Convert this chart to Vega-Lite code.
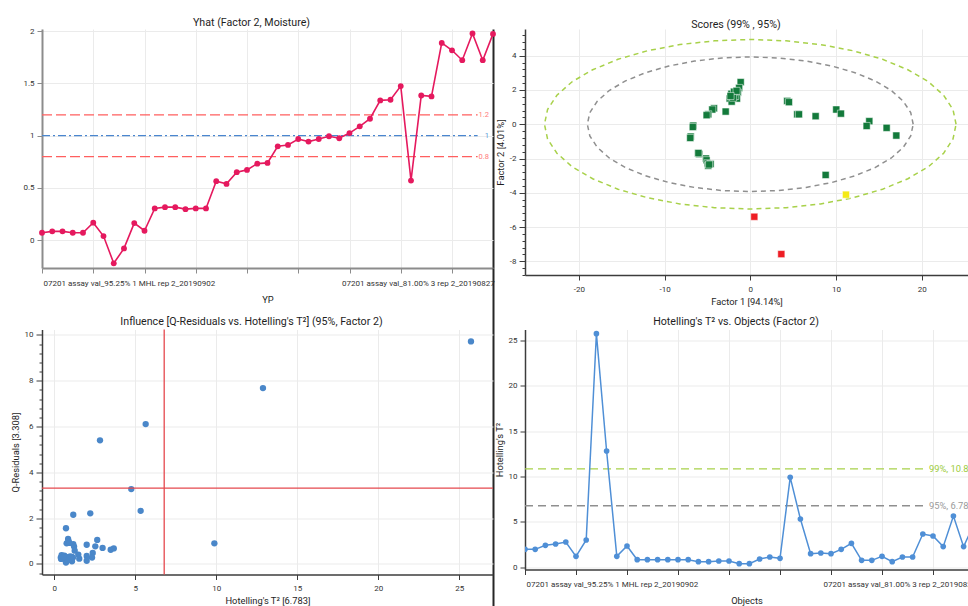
{
  "$schema": "https://vega.github.io/schema/vega-lite/v6.json",
  "autosize": {"type": "pad"},
  "padding": {"left": 11, "top": 17, "right": 0, "bottom": 0},
  "background": "#ffffff",
  "columns": 2,
  "spacing": {"row": 54.5, "column": 32},
  "bounds": "flush",
  "resolve": {"scale": {"stroke": "independent", "color": "independent", "fill": "independent", "strokeDash": "independent"}},
  "datasets": {
    "objs": [
      {"obj": 0, "yhat": 0.07, "t2": 1.98}, {"obj": 1, "yhat": 0.083, "t2": 1.98}, {"obj": 2, "yhat": 0.083, "t2": 2.42},
      {"obj": 3, "yhat": 0.07, "t2": 2.57}, {"obj": 4, "yhat": 0.07, "t2": 2.79}, {"obj": 5, "yhat": 0.166, "t2": 1.21},
      {"obj": 6, "yhat": 0.038, "t2": 3.01}, {"obj": 7, "yhat": -0.223, "t2": 25.73}, {"obj": 8, "yhat": -0.08, "t2": 12.81},
      {"obj": 9, "yhat": 0.162, "t2": 1.21}, {"obj": 10, "yhat": 0.089, "t2": 2.35}, {"obj": 11, "yhat": 0.303, "t2": 0.84},
      {"obj": 12, "yhat": 0.315, "t2": 0.84}, {"obj": 13, "yhat": 0.315, "t2": 0.84}, {"obj": 14, "yhat": 0.296, "t2": 0.84},
      {"obj": 15, "yhat": 0.303, "t2": 0.84}, {"obj": 16, "yhat": 0.303, "t2": 0.84}, {"obj": 17, "yhat": 0.564, "t2": 0.62},
      {"obj": 18, "yhat": 0.538, "t2": 0.62}, {"obj": 19, "yhat": 0.65, "t2": 0.7}, {"obj": 20, "yhat": 0.672, "t2": 0.7},
      {"obj": 21, "yhat": 0.732, "t2": 0.4}, {"obj": 22, "yhat": 0.739, "t2": 0.4}, {"obj": 23, "yhat": 0.898, "t2": 0.92},
      {"obj": 24, "yhat": 0.911, "t2": 1.14}, {"obj": 25, "yhat": 0.968, "t2": 0.99}, {"obj": 26, "yhat": 0.943, "t2": 9.91},
      {"obj": 27, "yhat": 0.968, "t2": 5.32}, {"obj": 28, "yhat": 0.994, "t2": 1.5}, {"obj": 29, "yhat": 0.975, "t2": 1.58},
      {"obj": 30, "yhat": 1.025, "t2": 1.5}, {"obj": 31, "yhat": 1.089, "t2": 1.98}, {"obj": 32, "yhat": 1.162, "t2": 2.64},
      {"obj": 33, "yhat": 1.338, "t2": 0.77}, {"obj": 34, "yhat": 1.344, "t2": 0.77}, {"obj": 35, "yhat": 1.475, "t2": 1.21},
      {"obj": 36, "yhat": 0.57, "t2": 0.62}, {"obj": 37, "yhat": 1.385, "t2": 1.14}, {"obj": 38, "yhat": 1.376, "t2": 1.14},
      {"obj": 39, "yhat": 1.889, "t2": 3.67}, {"obj": 40, "yhat": 1.818, "t2": 3.45}, {"obj": 41, "yhat": 1.723, "t2": 2.28},
      {"obj": 42, "yhat": 1.98, "t2": 5.65}, {"obj": 43, "yhat": 1.723, "t2": 2.28}, {"obj": 44, "yhat": 1.975, "t2": 4.75}
    ],
    "p1ref": [
      {"v": 1.2, "lab": "1.2", "c": "lim"},
      {"v": 1.0, "lab": "1", "c": "tgt"},
      {"v": 0.8, "lab": "0.8", "c": "lim"}
    ],
    "p4ref": [
      {"v": 10.85, "lab": "99%, 10.85", "c": "99"},
      {"v": 6.783, "lab": "95%, 6.783", "c": "95"}
    ],
    "inflim": [{"t2": 6.783, "q": 3.308}],
    "ell": [
      {"ell": "99", "k": 0, "x": 24, "y": 0}, {"ell": "99", "k": 1, "x": 23.64, "y": 0.86}, {"ell": "99", "k": 2, "x": 22.55, "y": 1.69},
      {"ell": "99", "k": 3, "x": 20.78, "y": 2.48}, {"ell": "99", "k": 4, "x": 18.38, "y": 3.18}, {"ell": "99", "k": 5, "x": 15.43, "y": 3.79},
      {"ell": "99", "k": 6, "x": 12, "y": 4.29}, {"ell": "99", "k": 7, "x": 8.21, "y": 4.65}, {"ell": "99", "k": 8, "x": 4.17, "y": 4.87},
      {"ell": "99", "k": 9, "x": 0, "y": 4.95}, {"ell": "99", "k": 10, "x": -4.17, "y": 4.87}, {"ell": "99", "k": 11, "x": -8.21, "y": 4.65},
      {"ell": "99", "k": 12, "x": -12, "y": 4.29}, {"ell": "99", "k": 13, "x": -15.43, "y": 3.79}, {"ell": "99", "k": 14, "x": -18.38, "y": 3.18},
      {"ell": "99", "k": 15, "x": -20.78, "y": 2.48}, {"ell": "99", "k": 16, "x": -22.55, "y": 1.69}, {"ell": "99", "k": 17, "x": -23.64, "y": 0.86},
      {"ell": "99", "k": 18, "x": -24, "y": 0}, {"ell": "99", "k": 19, "x": -23.64, "y": -0.86}, {"ell": "99", "k": 20, "x": -22.55, "y": -1.69},
      {"ell": "99", "k": 21, "x": -20.78, "y": -2.48}, {"ell": "99", "k": 22, "x": -18.38, "y": -3.18}, {"ell": "99", "k": 23, "x": -15.43, "y": -3.79},
      {"ell": "99", "k": 24, "x": -12, "y": -4.29}, {"ell": "99", "k": 25, "x": -8.21, "y": -4.65}, {"ell": "99", "k": 26, "x": -4.17, "y": -4.87},
      {"ell": "99", "k": 27, "x": 0, "y": -4.95}, {"ell": "99", "k": 28, "x": 4.17, "y": -4.87}, {"ell": "99", "k": 29, "x": 8.21, "y": -4.65},
      {"ell": "99", "k": 30, "x": 12, "y": -4.29}, {"ell": "99", "k": 31, "x": 15.43, "y": -3.79}, {"ell": "99", "k": 32, "x": 18.38, "y": -3.18},
      {"ell": "99", "k": 33, "x": 20.78, "y": -2.48}, {"ell": "99", "k": 34, "x": 22.55, "y": -1.69}, {"ell": "99", "k": 35, "x": 23.64, "y": -0.86},
      {"ell": "95", "k": 0, "x": 19, "y": 0}, {"ell": "95", "k": 1, "x": 18.71, "y": 0.68}, {"ell": "95", "k": 2, "x": 17.85, "y": 1.34},
      {"ell": "95", "k": 3, "x": 16.45, "y": 1.97}, {"ell": "95", "k": 4, "x": 14.55, "y": 2.53}, {"ell": "95", "k": 5, "x": 12.21, "y": 3.01},
      {"ell": "95", "k": 6, "x": 9.5, "y": 3.4}, {"ell": "95", "k": 7, "x": 6.5, "y": 3.69}, {"ell": "95", "k": 8, "x": 3.3, "y": 3.87},
      {"ell": "95", "k": 9, "x": 0, "y": 3.93}, {"ell": "95", "k": 10, "x": -3.3, "y": 3.87}, {"ell": "95", "k": 11, "x": -6.5, "y": 3.69},
      {"ell": "95", "k": 12, "x": -9.5, "y": 3.4}, {"ell": "95", "k": 13, "x": -12.21, "y": 3.01}, {"ell": "95", "k": 14, "x": -14.55, "y": 2.53},
      {"ell": "95", "k": 15, "x": -16.45, "y": 1.97}, {"ell": "95", "k": 16, "x": -17.85, "y": 1.34}, {"ell": "95", "k": 17, "x": -18.71, "y": 0.68},
      {"ell": "95", "k": 18, "x": -19, "y": 0}, {"ell": "95", "k": 19, "x": -18.71, "y": -0.68}, {"ell": "95", "k": 20, "x": -17.85, "y": -1.34},
      {"ell": "95", "k": 21, "x": -16.45, "y": -1.97}, {"ell": "95", "k": 22, "x": -14.55, "y": -2.53}, {"ell": "95", "k": 23, "x": -12.21, "y": -3.01},
      {"ell": "95", "k": 24, "x": -9.5, "y": -3.4}, {"ell": "95", "k": 25, "x": -6.5, "y": -3.69}, {"ell": "95", "k": 26, "x": -3.3, "y": -3.87},
      {"ell": "95", "k": 27, "x": 0, "y": -3.93}, {"ell": "95", "k": 28, "x": 3.3, "y": -3.87}, {"ell": "95", "k": 29, "x": 6.5, "y": -3.69},
      {"ell": "95", "k": 30, "x": 9.5, "y": -3.4}, {"ell": "95", "k": 31, "x": 12.21, "y": -3.01}, {"ell": "95", "k": 32, "x": 14.55, "y": -2.53},
      {"ell": "95", "k": 33, "x": 16.45, "y": -1.97}, {"ell": "95", "k": 34, "x": 17.85, "y": -1.34}, {"ell": "95", "k": 35, "x": 18.71, "y": -0.68}
    ],
    "scores": [
      {"f1": -1.12, "f2": 2.46, "grp": "ok"}, {"f1": -1.3, "f2": 2.12, "grp": "ok"}, {"f1": -1.45, "f2": 1.85, "grp": "ok"},
      {"f1": -1.55, "f2": 1.5, "grp": "ok"}, {"f1": -1.75, "f2": 1.65, "grp": "ok"}, {"f1": -2.2, "f2": 1.78, "grp": "ok"},
      {"f1": -2.4, "f2": 1.5, "grp": "ok"}, {"f1": -2.17, "f2": 1.32, "grp": "ok"}, {"f1": -1.9, "f2": 1.9, "grp": "ok"},
      {"f1": -2.0, "f2": 1.55, "grp": "ok"}, {"f1": -1.6, "f2": 1.95, "grp": "ok"}, {"f1": -2.3, "f2": 1.65, "grp": "ok"},
      {"f1": -4.23, "f2": 0.93, "grp": "ok"}, {"f1": -4.43, "f2": 0.86, "grp": "ok"}, {"f1": -4.9, "f2": 0.58, "grp": "ok"},
      {"f1": -5.09, "f2": 0.53, "grp": "ok"}, {"f1": -2.87, "f2": 0.74, "grp": "ok"},
      {"f1": -6.65, "f2": -0.08, "grp": "ok"}, {"f1": -6.7, "f2": -0.16, "grp": "ok"}, {"f1": -6.95, "f2": -0.72, "grp": "ok"},
      {"f1": -7.0, "f2": -0.8, "grp": "ok"},
      {"f1": -6.06, "f2": -1.7, "grp": "ok"}, {"f1": -5.95, "f2": -1.74, "grp": "ok"}, {"f1": -5.17, "f2": -2.0, "grp": "ok"},
      {"f1": -5.1, "f2": -2.1, "grp": "ok"}, {"f1": -4.98, "f2": -2.28, "grp": "ok"}, {"f1": -4.63, "f2": -2.32, "grp": "ok"},
      {"f1": -4.9, "f2": -2.42, "grp": "ok"}, {"f1": -4.8, "f2": -2.35, "grp": "ok"}, {"f1": -6.05, "f2": -1.68, "grp": "ok"},
      {"f1": 4.31, "f2": 1.36, "grp": "ok"}, {"f1": 4.51, "f2": 1.29, "grp": "ok"}, {"f1": 5.48, "f2": 0.58, "grp": "ok"},
      {"f1": 5.68, "f2": 0.58, "grp": "ok"}, {"f1": 7.62, "f2": 0.47, "grp": "ok"}, {"f1": 10.03, "f2": 0.86, "grp": "ok"},
      {"f1": 10.57, "f2": 0.62, "grp": "ok"}, {"f1": 13.88, "f2": 0.18, "grp": "ok"}, {"f1": 13.57, "f2": -0.1, "grp": "ok"},
      {"f1": 15.9, "f2": -0.21, "grp": "ok"}, {"f1": 17.03, "f2": -0.66, "grp": "ok"}, {"f1": 8.79, "f2": -2.96, "grp": "ok"},
      {"f1": 0.47, "f2": -5.4, "grp": "out"}, {"f1": 3.62, "f2": -7.58, "grp": "out"}, {"f1": 11.16, "f2": -4.11, "grp": "warn"}
    ],
    "infl": [
      {"t2": 25.72, "q": 9.72}, {"t2": 12.88, "q": 7.68}, {"t2": 5.64, "q": 6.11}, {"t2": 2.82, "q": 5.4}, {"t2": 4.75, "q": 3.27},
      {"t2": 5.33, "q": 2.32}, {"t2": 9.88, "q": 0.9}, {"t2": 1.17, "q": 2.15}, {"t2": 2.22, "q": 2.21}, {"t2": 0.72, "q": 1.56},
      {"t2": 0.85, "q": 1.09}, {"t2": 0.88, "q": 1.0}, {"t2": 0.76, "q": 0.9}, {"t2": 0.93, "q": 0.92}, {"t2": 1.17, "q": 0.87},
      {"t2": 1.22, "q": 0.76}, {"t2": 1.26, "q": 0.58}, {"t2": 2.0, "q": 0.84}, {"t2": 2.65, "q": 1.05}, {"t2": 2.53, "q": 0.77},
      {"t2": 2.98, "q": 0.7}, {"t2": 3.48, "q": 0.62}, {"t2": 3.67, "q": 0.68}, {"t2": 2.37, "q": 0.48}, {"t2": 2.33, "q": 0.28},
      {"t2": 2.0, "q": 0.35}, {"t2": 2.0, "q": 0.14}, {"t2": 1.48, "q": 0.41}, {"t2": 1.54, "q": 0.23}, {"t2": 1.09, "q": 0.31},
      {"t2": 1.09, "q": 0.12}, {"t2": 0.52, "q": 0.35}, {"t2": 0.4, "q": 0.28}, {"t2": 0.64, "q": 0.23}, {"t2": 0.72, "q": 0.06},
      {"t2": 0.93, "q": 0.23}, {"t2": 0.45, "q": 0.38}, {"t2": 0.62, "q": 0.36}, {"t2": 0.8, "q": 0.3}, {"t2": 0.7, "q": 0.15},
      {"t2": 0.84, "q": 0.18}, {"t2": 0.42, "q": 0.22}, {"t2": 1.15, "q": 0.28}, {"t2": 0.58, "q": 0.3}, {"t2": 0.98, "q": 0.33}
    ]
  },
  "concat": [
    {
      "width": 451,
      "height": 239,
      "title": {"text": "Yhat (Factor 2, Moisture)", "dx": -16},
      "resolve": {"axis": {"x": "independent", "y": "independent"}},
      "layer": [
        {
          "data": {"name": "p1ref"},
          "mark": {"type": "rule", "strokeWidth": 1.3},
          "encoding": {
            "x": {"datum": 0, "type": "quantitative",
              "scale": {"domain": [0, 44], "nice": false, "zero": false},
              "axis": {"orient": "bottom", "title": "YP", "values": [0, 5, 10, 15, 20, 25, 30, 35, 40], "grid": true,
                "labelExpr": "datum.value == 0 ? '07201 assay val_95.25% 1 MHL rep 2_20190902' : (datum.value == 30 ? '07201 assay val_81.00% 3 rep 2_20190827' : '')",
                "labelAlign": "left", "labelFlush": false, "labelOverlap": false, "labelPadding": 6, "titlePadding": 8,
                "labelOffset": {"condition": {"test": "datum.value == 30", "value": -8}, "value": 1},
                "domainColor": "#8c8c8c", "tickColor": "#8c8c8c", "domainWidth": 2}},
            "x2": {"datum": 42.5},
            "y": {"field": "v", "type": "quantitative",
              "scale": {"domain": [-0.268, 2.022], "nice": false, "zero": false},
              "axis": {"orient": "left", "title": null, "values": [0, 0.5, 1, 1.5, 2], "grid": true, "labelExpr": "'' + datum.value",
                "domainColor": "#8c8c8c", "tickColor": "#8c8c8c", "domainWidth": 2}},
            "stroke": {"field": "c", "type": "nominal", "scale": {"domain": ["lim", "tgt"], "range": ["#ff5f5f", "#4a86cf"]}, "legend": null},
            "strokeDash": {"field": "c", "type": "nominal", "scale": {"domain": ["lim", "tgt"], "range": [[10, 4], [8, 3, 2, 3]]}, "legend": null}
          }
        },
        {
          "data": {"name": "p1ref"},
          "mark": {"type": "text", "align": "right", "baseline": "middle", "fontSize": 7.5},
          "encoding": {
            "x": {"datum": 43.6, "type": "quantitative", "axis": null},
            "y": {"field": "v", "type": "quantitative", "axis": null},
            "text": {"field": "lab"},
            "color": {"field": "c", "type": "nominal", "scale": {"domain": ["lim", "tgt"], "range": ["#ff7b7b", "#5b9ad8"]}, "legend": null}
          }
        },
        {
          "data": {"name": "objs"},
          "mark": {"type": "line", "color": "#e5195e", "strokeWidth": 1.6, "point": {"filled": true, "size": 34, "color": "#e5195e"}},
          "encoding": {
            "x": {"field": "obj", "type": "quantitative", "axis": null},
            "y": {"field": "yhat", "type": "quantitative", "axis": null}
          }
        },
        {
          "data": {"name": "objs"},
          "mark": {"type": "point", "opacity": 0},
          "encoding": {
            "x": {"field": "obj", "type": "quantitative",
              "axis": {"orient": "bottom", "values": [44], "title": null, "labels": false, "domain": false,
                "grid": true, "gridColor": "#262626", "gridWidth": 2, "gridOpacity": 1,
                "tickSize": 338, "tickColor": "#262626", "tickWidth": 2}},
            "y": {"field": "yhat", "type": "quantitative",
              "axis": {"orient": "left", "values": [-0.6848], "title": null, "labels": false, "domain": false,
                "grid": true, "gridColor": "#262626", "gridWidth": 2, "gridOpacity": 1,
                "tickSize": 43, "tickColor": "#262626", "tickWidth": 2}}
          }
        }
      ]
    },
    {
      "width": 443,
      "height": 246,
      "title": {"text": "Scores (99% , 95%)", "dx": -10.5},
      "resolve": {"axis": {"y": "independent"}},
      "layer": [
        {
          "data": {"name": "ell"},
          "mark": {"type": "line", "interpolate": "linear-closed", "strokeWidth": 1.5, "strokeDash": [5, 4]},
          "encoding": {
            "x": {"field": "x", "type": "quantitative",
              "scale": {"domain": [-26.27, 25.39], "nice": false, "zero": false},
              "axis": {"title": "Factor 1 [94.14%]", "values": [-20, -10, 0, 10, 20], "grid": true, "labelExpr": "'' + datum.value",
                "labelPadding": 5, "titlePadding": 4.5}},
            "y": {"field": "y", "type": "quantitative",
              "scale": {"domain": [-8.8, 5.56], "nice": false, "zero": false},
              "axis": {"title": "Factor 2 [4.01%]", "orient": "left", "grid": true, "tickSize": 6,
                "values": [-8, -6, -4, -2, 0, 2, 4], "labelExpr": "'' + datum.value"}},
            "order": {"field": "k", "type": "quantitative"},
            "stroke": {"field": "ell", "type": "nominal", "scale": {"domain": ["99", "95"], "range": ["#a8d14a", "#8f8f8f"]}, "legend": null}
          }
        },
        {
          "data": {"name": "scores"},
          "mark": {"type": "square", "size": 50, "opacity": 1, "stroke": "#ffffff", "strokeWidth": 0.5},
          "encoding": {
            "x": {"field": "f1", "type": "quantitative"},
            "y": {"field": "f2", "type": "quantitative",
              "axis": {"orient": "left", "title": null, "labels": false, "grid": false, "domain": false, "tickSize": 3,
                "values": [-8.8, -8.4, -7.6, -7.2, -6.8, -6.4, -5.6, -5.2, -4.8, -4.4, -3.6, -3.2, -2.8, -2.4, -1.6, -1.2, -0.8, -0.4, 0.4, 0.8, 1.2, 1.6, 2.4, 2.8, 3.2, 3.6, 4.4, 4.8, 5.2]}},
            "fill": {"field": "grp", "type": "nominal", "scale": {"domain": ["ok", "out", "warn"], "range": ["#137a3b", "#ee1d24", "#f4ea16"]}, "legend": null}
          }
        },
        {
          "data": {"name": "scores"},
          "mark": {"type": "point", "opacity": 0},
          "encoding": {
            "x": {"field": "f1", "type": "quantitative"},
            "y": {"field": "f2", "type": "quantitative",
              "axis": {"orient": "left", "values": [-10.93], "title": null, "labels": false, "domain": false,
                "grid": true, "gridColor": "#262626", "gridWidth": 2, "gridOpacity": 1,
                "tickSize": 32, "tickColor": "#262626", "tickWidth": 2}}
          }
        }
      ]
    },
    {
      "width": 451,
      "height": 245,
      "title": {"text": "Influence [Q-Residuals vs. Hotelling's T²] (95%, Factor 2)", "dx": -16, "offset": 1.5},
      "resolve": {"axis": {"y": "independent"}},
      "layer": [
        {
          "data": {"name": "infl"},
          "mark": {"type": "circle", "size": 40, "opacity": 1, "color": "#4a87c9"},
          "encoding": {
            "x": {"field": "t2", "type": "quantitative",
              "scale": {"domain": [-0.76, 27.08], "nice": false, "zero": false},
              "axis": {"title": "Hotelling's T² [6.783]", "values": [0, 5, 10, 15, 20, 25], "grid": true,
                "labelPadding": 5, "titlePadding": 4}},
            "y": {"field": "q", "type": "quantitative",
              "scale": {"domain": [-0.46, 10.24], "nice": false, "zero": false},
              "axis": {"title": "Q-Residuals [3.308]", "orient": "left", "grid": true, "tickSize": 6,
                "values": [0, 2, 4, 6, 8, 10]}}
          }
        },
        {
          "data": {"name": "inflim"},
          "mark": {"type": "rule", "color": "#e5484e", "strokeWidth": 1.3},
          "encoding": {"x": {"field": "t2", "type": "quantitative"}}
        },
        {
          "data": {"name": "inflim"},
          "mark": {"type": "rule", "color": "#e5484e", "strokeWidth": 1.3},
          "encoding": {"y": {"field": "q", "type": "quantitative",
            "axis": {"orient": "left", "title": null, "labels": false, "grid": false, "domain": false, "tickSize": 3,
              "values": [-0.4, 0.4, 0.8, 1.2, 1.6, 2.4, 2.8, 3.2, 3.6, 4.4, 4.8, 5.2, 5.6, 6.4, 6.8, 7.2, 7.6, 8.4, 8.8, 9.2, 9.6]}}}
        }
      ]
    },
    {
      "width": 443,
      "height": 240,
      "title": {"text": "Hotelling's T² vs. Objects (Factor 2)", "dx": -10.5, "offset": 1.5},
      "resolve": {"axis": {"x": "independent", "y": "independent"}},
      "layer": [
        {
          "data": {"name": "p4ref"},
          "mark": {"type": "rule", "strokeWidth": 1.3, "strokeDash": [8, 5]},
          "encoding": {
            "x": {"datum": 0, "type": "quantitative",
              "scale": {"domain": [0, 43.43], "nice": false, "zero": false},
              "axis": {"orient": "bottom", "title": "Objects", "values": [0, 5, 10, 15, 20, 25, 30, 35, 40], "grid": true,
                "labelExpr": "datum.value == 0 ? '07201 assay val_95.25% 1 MHL rep 2_20190902' : (datum.value == 30 ? '07201 assay val_81.00% 3 rep 2_20190827' : '')",
                "labelAlign": "left", "labelFlush": false, "labelOverlap": false, "labelPadding": 6, "titlePadding": 8,
                "labelOffset": {"condition": {"test": "datum.value == 30", "value": -8}, "value": 1}}},
            "x2": {"datum": 39.1},
            "y": {"field": "v", "type": "quantitative",
              "scale": {"domain": [-0.24, 26.19], "nice": false, "zero": false},
              "axis": {"orient": "left", "title": "Hotelling's T²", "values": [0, 5, 10, 15, 20, 25], "grid": true}},
            "stroke": {"field": "c", "type": "nominal", "scale": {"domain": ["99", "95"], "range": ["#a8d14a", "#8f8f8f"]}, "legend": null}
          }
        },
        {
          "data": {"name": "p4ref"},
          "mark": {"type": "text", "align": "left", "baseline": "middle", "fontSize": 9.33, "clip": true},
          "encoding": {
            "x": {"datum": 39.6, "type": "quantitative", "axis": null},
            "y": {"field": "v", "type": "quantitative", "axis": null},
            "text": {"field": "lab"},
            "color": {"field": "c", "type": "nominal", "scale": {"domain": ["99", "95"], "range": ["#9ccc3c", "#9a9a9a"]}, "legend": null}
          }
        },
        {
          "data": {"name": "objs"},
          "mark": {"type": "line", "color": "#4f8fd6", "strokeWidth": 1.5, "clip": true, "point": {"filled": true, "size": 32, "color": "#4f8fd6"}},
          "encoding": {
            "x": {"field": "obj", "type": "quantitative", "axis": null},
            "y": {"field": "t2", "type": "quantitative", "axis": null}
          }
        },
        {
          "data": {"name": "objs"},
          "mark": {"type": "point", "opacity": 0},
          "encoding": {
            "x": {"field": "obj", "type": "quantitative",
              "axis": {"orient": "bottom", "values": [-2.89], "title": null, "labels": false, "domain": false,
                "grid": true, "gridColor": "#4f78b8", "gridWidth": 1, "gridOpacity": 1,
                "tickSize": 36.5, "tickColor": "#4f78b8", "tickWidth": 1}},
            "y": {"field": "t2", "type": "quantitative",
              "axis": {"orient": "left", "values": [27.95], "title": null, "labels": false, "domain": false,
                "grid": true, "gridColor": "#4f78b8", "gridWidth": 1, "gridOpacity": 1,
                "tickSize": 29.5, "tickColor": "#4f78b8", "tickWidth": 1}}
          }
        }
      ]
    }
  ],
  "config": {
    "font": "Roboto",
    "view": {"stroke": null},
    "title": {"fontSize": 10.67, "fontWeight": "normal", "color": "#1e1e1e", "offset": -1.5, "anchor": "middle"},
    "axis": {
      "labelFontSize": 8, "labelColor": "#333333", "titleFontSize": 9.33, "titleFontWeight": "normal", "titleColor": "#1e1e1e",
      "gridColor": "#ebebeb", "domainColor": "#3c3c3c", "tickColor": "#3c3c3c", "domainWidth": 1.5, "tickWidth": 1,
      "tickSize": 5, "labelPadding": 3, "titlePadding": 4
    }
  }
}
